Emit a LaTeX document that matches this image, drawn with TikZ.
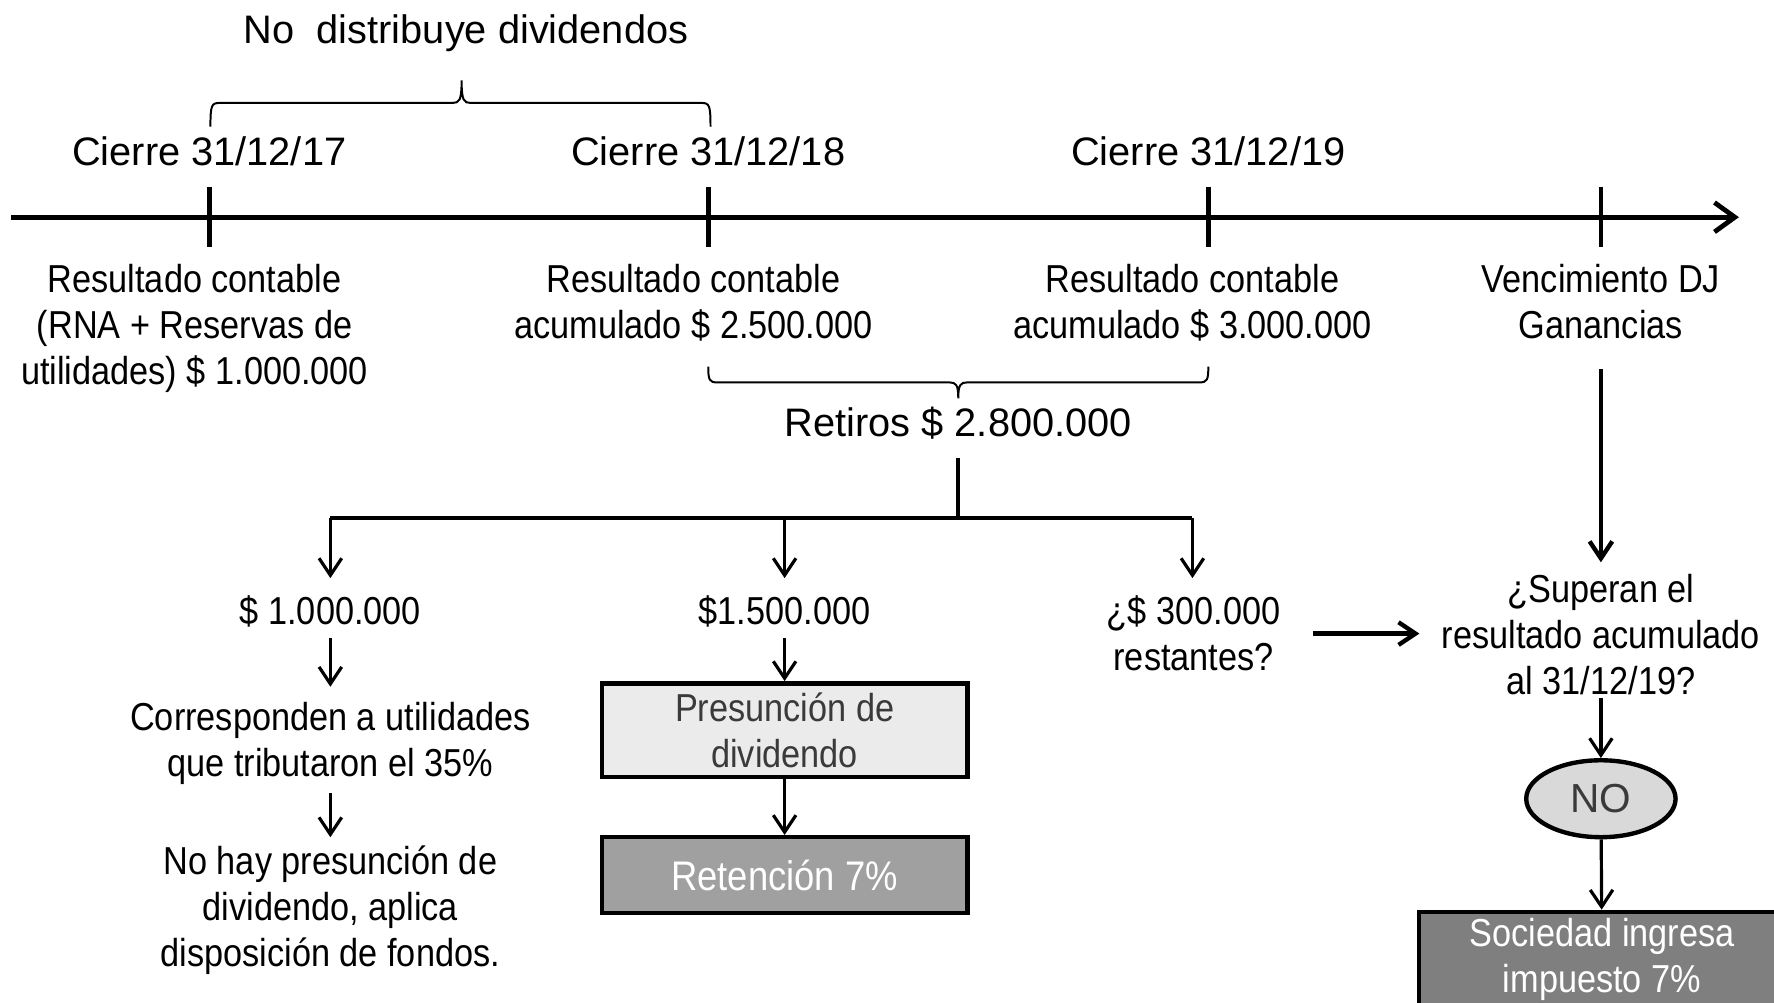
\documentclass[tikz,border=0pt]{standalone}
\usepackage{fontspec}
\setmainfont{Liberation Sans}
\newfontfamily\narrowfont{Liberation Sans}[FakeStretch=0.88]
\usetikzlibrary{arrows.meta,shapes.geometric}

\definecolor{grisclaro}{HTML}{EBEBEB}
\definecolor{grismedio}{HTML}{A0A0A0}
\definecolor{grisnodo}{HTML}{D9D9D9}
\definecolor{grisoscuro}{HTML}{7F7F7F}
\definecolor{textogris}{HTML}{3A3A3A}

\tikzset{
  big/.style={font=\fontsize{10}{12}\selectfont, inner sep=0pt, anchor=north},
  txt/.style={font=\narrowfont\fontsize{9.8}{11.6}\selectfont, align=center, inner sep=0pt, anchor=north},
  arr/.style={-{Straight Barb[length=1.5mm,width=2mm]}, line width=0.8pt},
  ln/.style={line width=1.1pt},
  tick/.style={line width=1.2pt},
  brc/.style={line width=0.5pt},
  caja/.style={draw, line width=1.1pt, minimum width=32.3mm, align=center, inner sep=0pt,
    font=\narrowfont\fontsize{9.8}{11.6}\selectfont}
}

\begin{document}
\begin{tikzpicture}[x=0.1mm, y=-0.1mm]
\useasboundingbox (0,0) rectangle (1568,886.5);
\clip (0,0) rectangle (1568,886.5);

% linea de tiempo
\coordinate (t0) at (10,192);
\coordinate (t1) at (1537,192);
\draw[line width=1.2pt, -{Straight Barb[length=1.8mm,width=2.6mm]}] (t0) -- (t1);
\foreach \x in {185,626,1068,1415}
  \draw[tick] (\x,165) -- (\x,218);

\node[big] (nodist) at (412,12) {No\ \ distribuye dividendos};
\draw[brc] (186,112) .. controls (186,93) and (187,91) .. (194,91) -- (400,91)
  .. controls (406,91) and (408,89) .. (408,71) .. controls (408,89) and (410,91) .. (416,91)
  -- (620,91) .. controls (627,91) and (628,93) .. (628,112);

\node[big] (c17) at (185,120) {Cierre 31/12/17};
\node[big] (c18) at (626,120) {Cierre 31/12/18};
\node[big] (c19) at (1068,120) {Cierre 31/12/19};

\node[txt] (r17) at (172,233) {Resultado contable\\(RNA + Reservas de\\utilidades) \$ 1.000.000};
\node[txt] (r18) at (613,233) {Resultado contable\\acumulado \$ 2.500.000};
\node[txt] (r19) at (1054,233) {Resultado contable\\acumulado \$ 3.000.000};
\node[txt] (venc) at (1415,233) {Vencimiento DJ\\Ganancias};

\draw[brc] (626,324) .. controls (626,336) and (627,338) .. (634,338) -- (839,338)
  .. controls (845,338) and (847,340) .. (847,352) .. controls (847,340) and (849,338) .. (855,338)
  -- (1060,338) .. controls (1067,338) and (1068,336) .. (1068,324);
\node[big] (ret) at (847,359) {Retiros \$ 2.800.000};

% reparto de los retiros
\coordinate (bar) at (847,458);
\coordinate (b1) at (292,458);
\coordinate (b2) at (693.5,458);
\coordinate (b3) at (1054,458);
\draw[ln, shorten <=1.6mm] (ret.south) -- (bar);
\draw[ln] (b1) -- (b3);

\node[txt] (m1) at (292,526) {\$ 1.000.000};
\node[txt] (m2) at (693.5,526) {\$1.500.000};
\node[txt] (m3) at (1055,526) {¿\$ 300.000\\restantes?};
\node[txt] (sup) at (1415,507) {¿Superan el\\resultado acumulado\\al 31/12/19?};

\draw[arr, shorten >=1.5mm] (b1) -- (b1 |- m1.north);
\draw[arr, shorten >=1.5mm] (b2) -- (b2 |- m2.north);
\draw[arr, shorten >=1.5mm] (b3) -- (b3 |- m3.north);

% columna izquierda
\node[txt] (cor) at (292,620) {Corresponden a utilidades\\que tributaron el 35\%};
\node[txt] (nohay) at (292,747) {No hay presunción de\\dividendo, aplica\\disposición de fondos.};
\draw[arr, shorten <=0.9mm, shorten >=1.3mm] (m1) -- (cor);
\draw[arr, shorten <=0.7mm, shorten >=0.7mm] (cor) -- (nohay);

% columna central
\node[caja, fill=grisclaro, text=textogris, minimum height=8.3mm] (pres) at (693.5,645.5) {Presunción de\\dividendo};
\node[caja, fill=grismedio, text=white, minimum height=6.7mm, font=\narrowfont\fontsize{10.4}{12}\selectfont] (ret7) at (693.5,773.5) {Retención 7\%};
\draw[arr, shorten <=0.9mm] (m2) -- (pres);
\draw[arr] (pres) -- (ret7);

% columna derecha
\draw[ln, -{Straight Barb[length=1.5mm,width=2mm]}, shorten <=2.6mm, shorten >=1mm] (venc) -- (sup);
\draw[ln, -{Straight Barb[length=1.5mm,width=2mm]}, shorten <=2.8mm, shorten >=1.9mm] (m3.east) -- (m3.east -| sup.west);
\node[ellipse, draw, line width=1.1pt, fill=grisnodo, text=textogris, minimum width=13.2mm, minimum height=6.8mm,
  inner sep=0pt, font=\fontsize{10.2}{12}\selectfont] (no) at (1415,706) {NO};
\node[caja, fill=grisoscuro, text=white, minimum width=32.4mm, minimum height=8.4mm] (soc) at (1416,848) {Sociedad ingresa\\impuesto 7\%};
\draw[arr, shorten <=0.2mm] (sup) -- (no);
\draw[arr] (no) -- (soc);
\end{tikzpicture}
\end{document}
